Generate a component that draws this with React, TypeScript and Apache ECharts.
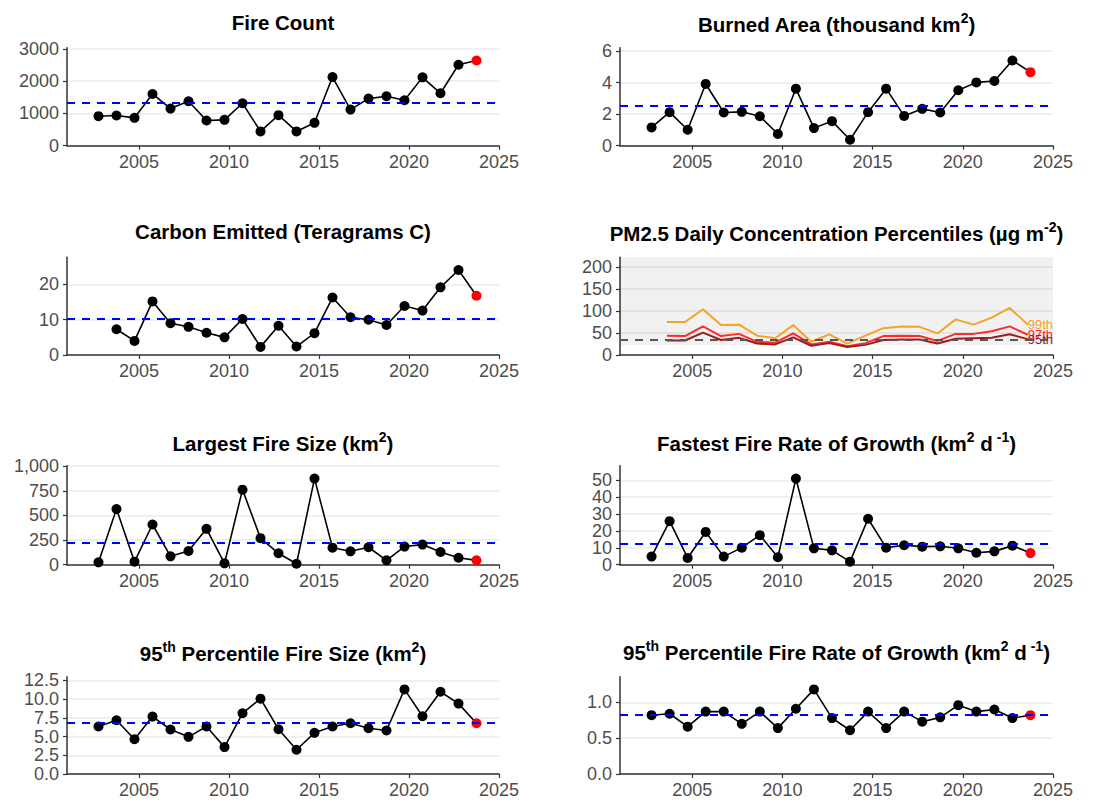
import React, { useEffect, useRef } from "react";
import * as echarts from "echarts";

// ---- Data ----
const fireYears = [2002.75, 2003.75, 2004.75, 2005.75, 2006.75, 2007.75, 2008.75, 2009.75, 2010.75, 2011.75, 2012.75, 2013.75, 2014.75, 2015.75, 2016.75, 2017.75, 2018.75, 2019.75, 2020.75, 2021.75, 2022.75, 2023.75];
const carbonYears = [2003.75, 2004.75, 2005.75, 2006.75, 2007.75, 2008.75, 2009.75, 2010.75, 2011.75, 2012.75, 2013.75, 2014.75, 2015.75, 2016.75, 2017.75, 2018.75, 2019.75, 2020.75, 2021.75, 2022.75, 2023.75];
const pmYears = [2003.6, 2004.6, 2005.6, 2006.6, 2007.6, 2008.6, 2009.6, 2010.6, 2011.6, 2012.6, 2013.6, 2014.6, 2015.6, 2016.6, 2017.6, 2018.6, 2019.6, 2020.6, 2021.6, 2022.6, 2023.6];

const fireCount = [914, 935, 863, 1602, 1150, 1376, 780, 801, 1315, 442, 945, 442, 709, 2126, 1119, 1458, 1530, 1407, 2116, 1623, 2506, 2639];
const burnedArea = [1.16, 2.13, 1.01, 3.92, 2.11, 2.15, 1.87, 0.74, 3.62, 1.12, 1.56, 0.38, 2.13, 3.62, 1.89, 2.34, 2.11, 3.52, 4.02, 4.11, 5.41, 4.67];
const carbonEmitted = [7.3, 4.0, 15.2, 9.0, 8.0, 6.3, 5.0, 10.2, 2.3, 8.3, 2.4, 6.2, 16.3, 10.7, 10.0, 8.5, 13.9, 12.6, 19.2, 24.1, 16.8];
const largestFire = [24, 565, 31, 408, 85, 139, 364, 14, 762, 269, 116, 10, 874, 173, 136, 177, 44, 184, 204, 129, 71, 44];
const fastestGrowth = [4.8, 25.8, 4.0, 19.4, 4.8, 10.1, 17.5, 4.4, 51.0, 9.7, 8.5, 1.8, 27.2, 10.1, 11.5, 10.7, 10.9, 9.7, 7.1, 7.9, 11.3, 6.9];
const p95Size = [6.34, 7.18, 4.65, 7.67, 5.94, 4.96, 6.34, 3.59, 8.11, 10.06, 5.98, 3.24, 5.5, 6.34, 6.78, 6.12, 5.81, 11.3, 7.71, 10.99, 9.4, 6.78];
const p95Rate = [0.82, 0.84, 0.66, 0.87, 0.87, 0.7, 0.87, 0.64, 0.91, 1.18, 0.78, 0.61, 0.87, 0.64, 0.87, 0.73, 0.79, 0.96, 0.87, 0.9, 0.78, 0.82];

const pm99 = [75, 75, 104, 68, 69, 44, 38, 68, 30, 47, 26, 44, 61, 65, 64, 49, 81, 69, 85, 107, 69];
const pm97 = [44, 43, 65, 43, 48, 30, 28, 49, 24, 30, 20, 27, 43, 44, 43, 32, 48, 48, 54, 65, 46];
const pm95 = [33, 33, 51, 34, 39, 26, 24, 40, 21, 27, 18, 23, 34, 35, 35, 26, 37, 38, 39, 47, 36];

// reference (mean) lines
const meanFireCount = 1315;
const meanBurnedArea = 2.53;
const meanCarbon = 10.4;
const meanLargest = 221;
const meanFastest = 12.7;
const meanP95Size = 6.83;
const meanP95Rate = 0.816;
const pmStandard = 35;
const pmShadeFrom = 23;
const pmAxisMax = 222;

const xTicks = [2005, 2010, 2015, 2020, 2025];
const fireCountTicks = [0, 1000, 2000, 3000];
const burnedTicks = [0, 2, 4, 6];
const carbonTicks = [0, 10, 20];
const pmTicks = [0, 50, 100, 150, 200];
const largestTicks = [0, 250, 500, 750, 1000];
const fastestTicks = [0, 10, 20, 30, 40, 50];
const fastestLabelsA = [0, 20, 40];
const fastestLabelsB = [10, 30, 50];
const p95SizeTicks = [0, 2.5, 5, 7.5, 10, 12.5];
const p95RateTicks = [0, 0.5, 1.0];

const FONT = "'Liberation Sans', Arial, Helvetica, sans-serif";
const AXIS_COLOR = "#333333";
const LABEL_COLOR = "#4d4d4d";
const GRID_COLOR = "#ebebeb";

const colLeft = [67, 620];
const colWidth = [432, 433];
const rowTop = [47.7, 257.3, 465.7, 676.7];
const rowHeight = [98, 97.7, 99, 97.3];

type Panel = {
  title: string;
  col: number;
  row: number;
  ticks: number[];
  labels?: number[];
  yMax: number;
  fmt: (v: number) => string;
};

const intFmt = (v: number) => String(v);
const commaFmt = (v: number) => v.toLocaleString("en-US");
const oneDec = (v: number) => v.toFixed(1);

const panels: Panel[] = [
  { title: "{b|Fire Count}", col: 0, row: 0, ticks: fireCountTicks, yMax: Math.max(...fireCount) * 1.15, fmt: intFmt },
  { title: "{b|Burned Area (thousand km}{s|2}{b|)}", col: 1, row: 0, ticks: burnedTicks, yMax: Math.max(...burnedArea) * 1.15, fmt: intFmt },
  { title: "{b|Carbon Emitted (Teragrams C)}", col: 0, row: 1, ticks: carbonTicks, yMax: Math.max(...carbonEmitted) * 1.15, fmt: intFmt },
  { title: "{b|PM2.5 Daily Concentration Percentiles (µg m}{s|-2}{b|)}", col: 1, row: 1, ticks: pmTicks, yMax: pmAxisMax, fmt: intFmt },
  { title: "{b|Largest Fire Size (km}{s|2}{b|)}", col: 0, row: 2, ticks: largestTicks, yMax: Math.max(...largestFire) * 1.15, fmt: commaFmt },
  { title: "{b|Fastest Fire Rate of Growth (km}{s|2}{b| d}{s| -1}{b|)}", col: 1, row: 2, ticks: fastestTicks, labels: fastestLabelsA, yMax: Math.max(...fastestGrowth) * 1.15, fmt: intFmt },
  { title: "{b|95}{s|th}{b| Percentile Fire Size (km}{s|2}{b|)}", col: 0, row: 3, ticks: p95SizeTicks, yMax: Math.max(...p95Size) * 1.15, fmt: oneDec },
  { title: "{b|95}{s|th}{b| Percentile Fire Rate of Growth (km}{s|2}{b| d}{s| -1}{b|)}", col: 1, row: 3, ticks: p95RateTicks, yMax: Math.max(...p95Rate) * 1.15, fmt: oneDec },
];

const titleY = [[22, 24], [231, 233], [443, 443], [653, 652]];

function pointSeries(idx: number, xs: number[], ys: number[], mean: number) {
  const last = xs.length - 1;
  return {
    type: "line",
    xAxisIndex: idx,
    yAxisIndex: idx,
    data: xs.map((x, k) =>
      k === last ? { value: [x, ys[k]], itemStyle: { color: "#ff0000" } } : [x, ys[k]]
    ),
    symbol: "circle",
    symbolSize: 10,
    showSymbol: true,
    lineStyle: { color: "#000000", width: 1.6 },
    itemStyle: { color: "#000000" },
    z: 3,
    markLine: {
      silent: true,
      symbol: "none",
      label: { show: false },
      lineStyle: { color: "#0000ff", width: 1.9, type: [8, 7] },
      data: [{ yAxis: mean }],
    },
  };
}

function pmSeries(idx: number, ys: number[], color: string, name: string, extra: any = {}) {
  return {
    type: "line",
    name,
    xAxisIndex: idx,
    yAxisIndex: idx,
    data: pmYears.map((x, k) => [x, ys[k]]),
    showSymbol: false,
    symbol: "none",
    lineStyle: { color, width: 2 },
    itemStyle: { color },
    z: 3,
    endLabel: {
      show: true,
      formatter: name,
      color,
      fontSize: 13,
      fontFamily: FONT,
      distance: 0,
    },
    ...extra,
  };
}

const yLabelStyle = {
  show: true,
  showMinLabel: true,
  showMaxLabel: true,
  hideOverlap: false,
  fontSize: 18,
  color: LABEL_COLOR,
  fontFamily: FONT,
  margin: 8,
};

export default function App() {
  const ref = useRef<HTMLDivElement>(null);

  useEffect(() => {
    document.body.style.margin = "0";
    if (!ref.current) return;
    const chart = echarts.init(ref.current, undefined, { renderer: "svg" });

    const grids = panels.map((p) => ({
      left: colLeft[p.col],
      top: rowTop[p.row],
      width: colWidth[p.col],
      height: rowHeight[p.row],
      containLabel: false,
    }));

    const xAxes = panels.map((p, i) => ({
      type: "value",
      gridIndex: i,
      min: 2001,
      max: 2025,
      axisLine: { show: true, onZero: false, lineStyle: { color: AXIS_COLOR, width: 1.5 } },
      axisTick: { show: true, length: 4, customValues: xTicks, lineStyle: { color: AXIS_COLOR, width: 1.2 } },
      axisLabel: {
        show: true,
        customValues: xTicks,
        showMinLabel: true,
        showMaxLabel: true,
        hideOverlap: false,
        fontSize: 18,
        color: LABEL_COLOR,
        fontFamily: FONT,
        margin: 7,
        formatter: (v: number) => String(v),
      },
      splitLine: { show: false },
    }));

    const yAxes: any[] = panels.map((p, i) => ({
      type: "value",
      gridIndex: i,
      min: 0,
      max: p.yMax,
      axisLine: { show: true, onZero: false, lineStyle: { color: AXIS_COLOR, width: 1.5 } },
      axisTick: { show: true, length: 4, customValues: p.ticks, lineStyle: { color: AXIS_COLOR, width: 1.2 } },
      axisLabel: {
        ...yLabelStyle,
        customValues: p.labels || p.ticks,
        formatter: (v: number) => p.fmt(v),
      },
      splitLine: { show: true, customValues: p.ticks, lineStyle: { color: GRID_COLOR, width: 1.5 } },
    }));

    // second label layer for the densely labelled "Fastest" panel (labels 10, 30, 50)
    const fastIdx = 5;
    yAxes.push({
      type: "value",
      gridIndex: fastIdx,
      position: "left",
      offset: 0,
      min: 0,
      max: panels[fastIdx].yMax,
      axisLine: { show: false, onZero: false },
      axisTick: { show: false },
      axisLabel: {
        ...yLabelStyle,
        customValues: fastestLabelsB,
        formatter: (v: number) => String(v),
      },
      splitLine: { show: false },
    });

    const series: any[] = [
      pointSeries(0, fireYears, fireCount, meanFireCount),
      pointSeries(1, fireYears, burnedArea, meanBurnedArea),
      pointSeries(2, carbonYears, carbonEmitted, meanCarbon),
      pmSeries(3, pm99, "#f5a327", "99th", {
        markArea: {
          silent: true,
          itemStyle: { color: "rgba(0,0,0,0.055)" },
          data: [[{ yAxis: pmShadeFrom }, { yAxis: pmAxisMax }]],
        },
      }),
      pmSeries(3, pm97, "#ff2a2a", "97th"),
      pmSeries(3, pm95, "#9b1c1c", "95th", {
        markLine: {
          silent: true,
          symbol: "none",
          label: { show: false },
          lineStyle: { color: "#555555", width: 1.9, type: [8, 7] },
          data: [{ yAxis: pmStandard }],
        },
      }),
      pointSeries(4, fireYears, largestFire, meanLargest),
      pointSeries(5, fireYears, fastestGrowth, meanFastest),
      pointSeries(6, fireYears, p95Size, meanP95Size),
      pointSeries(7, fireYears, p95Rate, meanP95Rate),
    ];

    const rich = {
      b: { fontSize: 20.5, fontWeight: "bold", fill: "#000000", fontFamily: FONT, lineHeight: 26 },
      s: { fontSize: 14, fontWeight: "bold", fill: "#000000", fontFamily: FONT, lineHeight: 19, verticalAlign: "top" },
    };

    const graphic = panels.map((p) => ({
      type: "text",
      x: colLeft[p.col] + colWidth[p.col] / 2,
      y: titleY[p.row][p.col],
      style: {
        text: p.title,
        rich,
        align: "center",
        verticalAlign: "middle",
        fontFamily: FONT,
        fontSize: 20.5,
        fontWeight: "bold",
        fill: "#000000",
      },
      silent: true,
    }));

    chart.setOption({
      animation: false,
      backgroundColor: "#ffffff",
      textStyle: { fontFamily: FONT },
      grid: grids,
      xAxis: xAxes,
      yAxis: yAxes,
      series,
      graphic,
    });

    return () => {
      chart.dispose();
    };
  }, []);

  return (
    <div
      ref={ref}
      style={{ position: "fixed", left: 0, top: 0, width: 1115, height: 804, background: "#fff" }}
    />
  );
}
